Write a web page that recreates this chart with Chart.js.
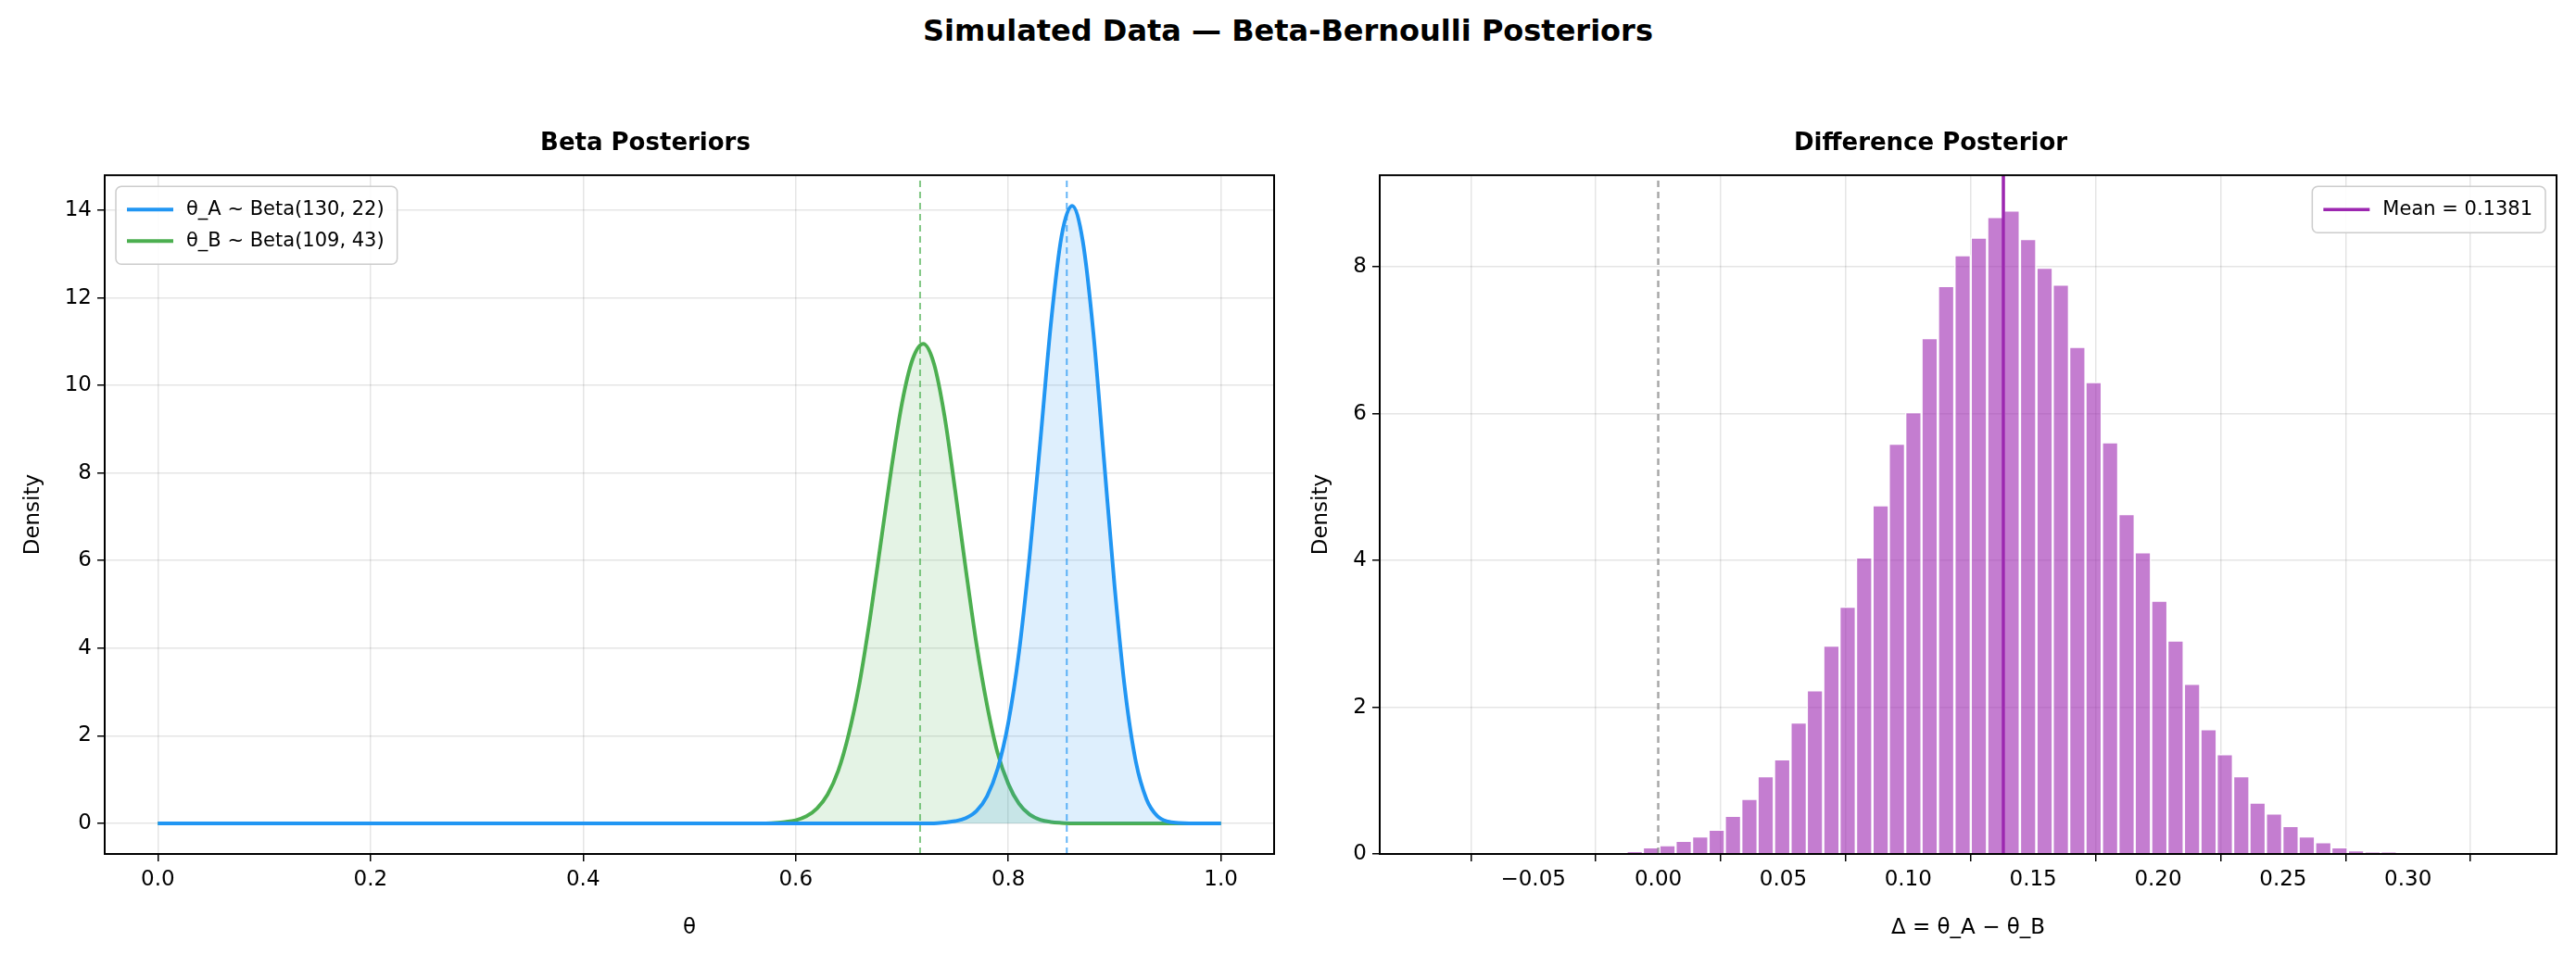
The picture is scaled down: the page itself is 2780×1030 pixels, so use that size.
<!DOCTYPE html>
<html>
<head>
<meta charset="utf-8">
<script src="https://cdn.jsdelivr.net/npm/chart.js@4"></script>
<style>
  body { margin: 0; background: #fff; width: 2780px; height: 1030px; position: relative; overflow: hidden; font-family: "DejaVu Sans", sans-serif; }
  #title { position: absolute; top: 14px; left: 0; width: 2780px; text-align: center; font-weight: bold; font-size: 32px; }
  .box { position: absolute; top: 120px; height: 900px; width: 1390px; }
</style>
</head>
<body>
<div id="title">Simulated Data — Beta-Bernoulli Posteriors</div>
<div class="box" style="left:0"><canvas id="leftChart" width="1390" height="900"></canvas></div>
<div class="box" style="left:1390px"><canvas id="rightChart" width="1390" height="900"></canvas></div>
<script>
// Beta posterior curves
var thetaA = [0, 0.73, 0.74, 0.75, 0.76, 0.77, 0.78, 0.79, 0.80, 0.81, 0.82, 0.83, 0.84, 0.85, 0.86, 0.87, 0.88, 0.89, 0.90, 0.91, 0.92, 0.93, 0.94, 0.95, 0.96, 0.97, 1];
var densityA = [0, 0, 0.02, 0.05, 0.12, 0.28, 0.62, 1.25, 2.3, 3.9, 6.1, 8.7, 11.4, 13.4, 14.1, 13.3, 11.2, 8.3, 5.4, 3.0, 1.4, 0.55, 0.17, 0.04, 0.01, 0, 0];
var thetaB = [0, 0.57, 0.58, 0.59, 0.60, 0.61, 0.62, 0.63, 0.64, 0.65, 0.66, 0.67, 0.68, 0.69, 0.70, 0.71, 0.72, 0.73, 0.74, 0.75, 0.76, 0.77, 0.78, 0.79, 0.80, 0.81, 0.82, 0.83, 0.84, 0.85, 0.86, 1];
var densityB = [0, 0, 0.01, 0.03, 0.07, 0.16, 0.34, 0.66, 1.2, 2.05, 3.2, 4.7, 6.4, 8.1, 9.6, 10.6, 10.95, 10.5, 9.3, 7.6, 5.8, 4.1, 2.7, 1.6, 0.9, 0.45, 0.2, 0.08, 0.03, 0.01, 0, 0];
var meanA = 0.855;
var meanB = 0.717;

// Difference histogram
var binCenters = [-0.0160, -0.0094, -0.0029, 0.0037, 0.0102, 0.0168, 0.0234, 0.0299, 0.0365, 0.0430,
  0.0496, 0.0562, 0.0627, 0.0693, 0.0758, 0.0824, 0.0890, 0.0955, 0.1021, 0.1086,
  0.1152, 0.1218, 0.1283, 0.1349, 0.1414, 0.1480, 0.1546, 0.1611, 0.1677, 0.1742,
  0.1808, 0.1874, 0.1939, 0.2005, 0.2070, 0.2136, 0.2202, 0.2267, 0.2333, 0.2398,
  0.2464, 0.2530, 0.2595, 0.2661, 0.2726, 0.2792, 0.2858, 0.2923];
var binDensity = [0.01, 0.03, 0.09, 0.12, 0.18, 0.24, 0.33, 0.52, 0.75, 1.06,
  1.29, 1.79, 2.23, 2.84, 3.37, 4.04, 4.75, 5.59, 6.02, 7.03,
  7.74, 8.16, 8.40, 8.68, 8.77, 8.38, 7.99, 7.76, 6.91, 6.43,
  5.61, 4.63, 4.11, 3.45, 2.91, 2.32, 1.70, 1.36, 1.06, 0.70,
  0.55, 0.38, 0.24, 0.16, 0.09, 0.05, 0.02, 0.02];
var diffMean = 0.1381;

var FONT = '"DejaVu Sans", sans-serif';
Chart.defaults.font.family = FONT;
Chart.defaults.color = '#000';

function pts(xs, ys) { return xs.map(function (x, i) { return { x: x, y: ys[i] }; }); }
function minus(s) { return s.replace('-', '\u2212'); }

// frame + legend drawn matplotlib-style inside the axes
function framePlugin(items, corner) {
  return {
    id: 'frame',
    afterDraw: function (chart) {
      var ctx = chart.ctx, a = chart.chartArea;
      ctx.save();
      ctx.strokeStyle = '#000'; ctx.lineWidth = 2;
      ctx.strokeRect(a.left, a.top, a.right - a.left, a.bottom - a.top);
      ctx.font = '21px ' + FONT;
      var w = 0;
      items.forEach(function (it) { w = Math.max(w, ctx.measureText(it.label).width); });
      var bw = w + 90, bh = items.length * 34 + 16;
      var bx = corner === 'left' ? a.left + 12 : a.right - 12 - bw, by = a.top + 12;
      ctx.fillStyle = 'rgba(255,255,255,0.85)';
      ctx.strokeStyle = '#ccc'; ctx.lineWidth = 1.5;
      ctx.beginPath(); ctx.roundRect(bx, by, bw, bh, 6); ctx.fill(); ctx.stroke();
      items.forEach(function (it, i) {
        var y = by + 25 + i * 34;
        ctx.strokeStyle = it.color; ctx.lineWidth = it.width;
        ctx.beginPath(); ctx.moveTo(bx + 12, y); ctx.lineTo(bx + 62, y); ctx.stroke();
        ctx.fillStyle = '#000'; ctx.textBaseline = 'middle';
        ctx.fillText(it.label, bx + 76, y);
      });
      ctx.restore();
    }
  };
}

function axis(min, max, step, fmt, title, fixed, isX) {
  return {
    type: 'linear', min: min, max: max,
    afterFit: function (s) { if (isX) s.height = fixed; else s.width = fixed; },
    border: { display: false },
    grid: { color: 'rgba(0,0,0,0.1)', lineWidth: 1.5, tickColor: '#000', tickLength: 8 },
    ticks: { stepSize: step, font: { size: 23 }, padding: 6, callback: fmt },
    afterBuildTicks: function (s) {
      var t = [];
      for (var v = Math.ceil(min / step) * step; v <= max + 1e-9; v += step) t.push({ value: Math.round(v * 1e6) / 1e6 });
      s.ticks = t;
    },
    title: { display: true, text: title, font: { size: 23 }, padding: { top: 4 } }
  };
}

var blue = '#2196F3', green = '#4CAF50', purple = '#9C27B0';

new Chart(document.getElementById('leftChart'), {
  type: 'line',
  data: {
    datasets: [
      { data: pts(thetaA, densityA), borderColor: blue, borderWidth: 4, pointRadius: 0, cubicInterpolationMode: 'monotone', fill: 'origin', backgroundColor: 'rgba(33,150,243,0.15)' },
      { data: pts(thetaB, densityB), borderColor: green, borderWidth: 4, pointRadius: 0, cubicInterpolationMode: 'monotone', fill: 'origin', backgroundColor: 'rgba(76,175,80,0.15)' },
      { data: [{ x: meanA, y: -0.7 }, { x: meanA, y: 14.8 }], borderColor: 'rgba(33,150,243,0.7)', borderWidth: 2, borderDash: [7, 5], pointRadius: 0 },
      { data: [{ x: meanB, y: -0.7 }, { x: meanB, y: 14.8 }], borderColor: 'rgba(76,175,80,0.7)', borderWidth: 2, borderDash: [7, 5], pointRadius: 0 }
    ]
  },
  options: {
    responsive: false, animation: false,
    layout: { padding: { left: 18, right: 15, top: 0, bottom: 0 } },
    plugins: {
      legend: { display: false }, tooltip: { enabled: false },
      title: { display: true, text: 'Beta Posteriors', font: { size: 26, weight: 'bold' }, padding: { top: 20, bottom: 18 } }
    },
    scales: {
      x: axis(-0.05, 1.05, 0.2, function (v) { return minus(v.toFixed(1)); }, 'θ', 98, true),
      y: axis(-0.7, 14.8, 2, function (v) { return minus(String(v)); }, 'Density', 95, false)
    }
  },
  plugins: [framePlugin([
    { label: 'θ_A ~ Beta(130, 22)', color: blue, width: 4 },
    { label: 'θ_B ~ Beta(109, 43)', color: green, width: 4 }
  ], 'left')]
});

new Chart(document.getElementById('rightChart'), {
  type: 'bar',
  data: {
    datasets: [
      { type: 'line', data: [{ x: 0, y: 0 }, { x: 0, y: 9.25 }], borderColor: 'rgba(130,130,130,0.7)', borderWidth: 2.5, borderDash: [7, 5], pointRadius: 0 },
      { type: 'line', data: [{ x: diffMean, y: 0 }, { x: diffMean, y: 9.25 }], borderColor: purple, borderWidth: 3.5, pointRadius: 0 },
      { type: 'bar', data: pts(binCenters, binDensity), backgroundColor: 'rgba(156,39,176,0.6)', borderColor: 'rgba(255,255,255,0.8)', borderWidth: 1.5, barPercentage: 1, categoryPercentage: 1 }
    ]
  },
  options: {
    responsive: false, animation: false,
    layout: { padding: { left: 18, right: 21, top: 0, bottom: 0 } },
    plugins: {
      legend: { display: false }, tooltip: { enabled: false },
      title: { display: true, text: 'Difference Posterior', font: { size: 26, weight: 'bold' }, padding: { top: 20, bottom: 18 } }
    },
    scales: {
      x: axis(-0.082, 0.33, 0.05, function (v) { return minus(v.toFixed(2)); }, 'Δ = θ_A − θ_B', 98, true),
      y: axis(0, 9.25, 2, function (v) { return String(v); }, 'Density', 81, false)
    }
  },
  plugins: [framePlugin([{ label: 'Mean = 0.1381', color: purple, width: 3.5 }], 'right')]
});
</script>
</body>
</html>
